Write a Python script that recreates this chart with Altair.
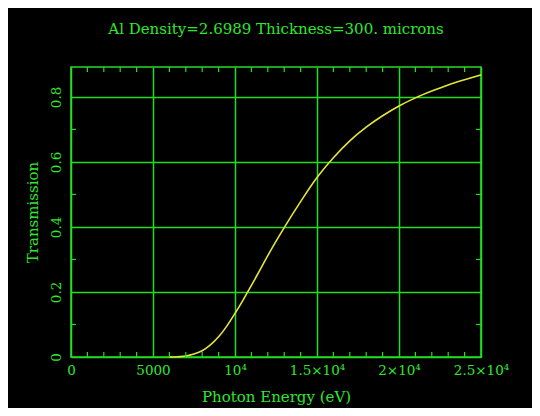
import altair as alt
import pandas as pd

# Photon energy (eV) and transmission
energy = [6000, 6500, 7000, 7500, 8000, 8500, 9000, 9500, 10000, 10500, 11000,
          11500, 12000, 13000, 14000, 15000, 16000, 17000, 18000, 19000, 20000,
          21000, 22000, 23000, 24000, 25000]
transmission = [0.000, 0.001, 0.003, 0.009, 0.019, 0.037, 0.062, 0.095, 0.134,
                0.176, 0.220, 0.266, 0.312, 0.398, 0.478, 0.552, 0.613, 0.665,
                0.707, 0.742, 0.772, 0.797, 0.818, 0.837, 0.853, 0.868]

x_major = [0, 5000, 10000, 15000, 20000, 25000]
x_minor = [1000, 2000, 3000, 4000, 6000, 7000, 8000, 9000, 11000, 12000, 13000,
           14000, 16000, 17000, 18000, 19000, 21000, 22000, 23000, 24000]
y_major = [0, 0.2, 0.4, 0.6, 0.8]
y_minor = [0.1, 0.3, 0.5, 0.7]

GREEN = "#22dd22"
TEXT = "#2ee82e"
YELLOW = "#e4e43a"
FONT = "DejaVu Serif"
W, H = 410, 290

curve = pd.DataFrame({"E": energy, "T": transmission})
xm = pd.DataFrame({"E": x_minor})
ym = pd.DataFrame({"T": y_minor})

xscale = alt.Scale(domain=[0, 25000], nice=False, zero=False)
yscale = alt.Scale(domain=[0, 0.892], nice=False, zero=False)

x_labels = ("datum.value == 0 ? '0' : datum.value == 5000 ? '5000' : "
            "datum.value == 10000 ? '10⁴' : datum.value == 15000 ? '1.5×10⁴' : "
            "datum.value == 20000 ? '2×10⁴' : '2.5×10⁴'")
y_labels = "datum.value == 0 ? '0' : format(datum.value, '.1f')"

xaxis = alt.Axis(title="Photon Energy (eV)", values=x_major,
                 labelExpr=x_labels, grid=True, ticks=False,
                 domain=False, labelPadding=6, titlePadding=13,
                 labelFlush=False, labelOverlap=False)
yaxis = alt.Axis(title="Transmission", values=y_major,
                 labelExpr=y_labels, grid=True, ticks=False,
                 domain=False, labelAngle=-90, labelAlign="center",
                 labelBaseline="bottom", labelPadding=8,
                 titlePadding=9, labelFlush=False, labelOverlap=False)

line = alt.Chart(curve).mark_line(color=YELLOW, strokeWidth=1.6,
                                  interpolate="monotone").encode(
    x=alt.X("E:Q", scale=xscale, axis=xaxis),
    y=alt.Y("T:Q", scale=yscale, axis=yaxis),
)

bottom_ticks = alt.Chart(xm).mark_rule(color=GREEN, strokeWidth=1.2).encode(
    x=alt.X("E:Q", scale=xscale, axis=xaxis),
    y=alt.value(H), y2=alt.value(H - 5))
top_ticks = alt.Chart(xm).mark_rule(color=GREEN, strokeWidth=1.2).encode(
    x=alt.X("E:Q", scale=xscale, axis=xaxis),
    y=alt.value(0), y2=alt.value(5))
left_ticks = alt.Chart(ym).mark_rule(color=GREEN, strokeWidth=1.2).encode(
    y=alt.Y("T:Q", scale=yscale, axis=yaxis),
    x=alt.value(0), x2=alt.value(5))
right_ticks = alt.Chart(ym).mark_rule(color=GREEN, strokeWidth=1.2).encode(
    y=alt.Y("T:Q", scale=yscale, axis=yaxis),
    x=alt.value(W), x2=alt.value(W - 5))

chart = alt.layer(line, bottom_ticks, top_ticks, left_ticks, right_ticks).properties(
    width=W, height=H,
    title=alt.Title("Al Density=2.6989 Thickness=300. microns", fontSize=15,
                    font=FONT, color=TEXT, fontWeight="normal", offset=29,
                    anchor="middle"),
    autosize=alt.AutoSizeParams(type="none"),
    padding={"left": 63, "top": 59, "right": 51, "bottom": 51},
    background="black",
).configure_view(
    stroke=GREEN, strokeWidth=1.6, fill="black"
).configure_axis(
    gridColor=GREEN, gridWidth=1.5, gridOpacity=1,
    labelColor=TEXT, labelFont=FONT, labelFontSize=13.5,
    titleColor=TEXT, titleFont=FONT, titleFontSize=15, titleFontWeight="normal",
)

chart.save("out.html", embed_options={"renderer": "svg", "actions": False})
